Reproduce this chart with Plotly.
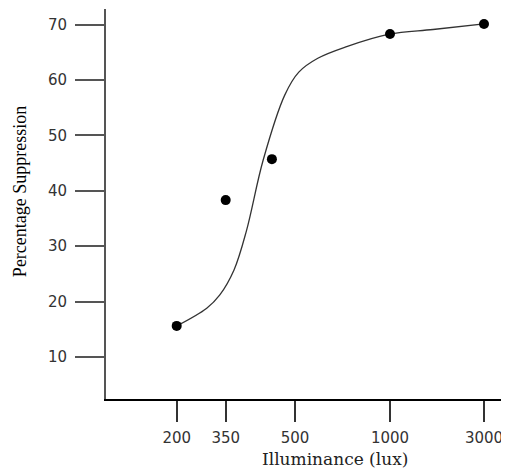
import numpy as np
import plotly.graph_objects as go

# Data
tick_lux = [200, 350, 500, 1000, 3000]
tick_labels = ["200", "350", "500", "1000", "3000"]
y_ticks = [10, 20, 30, 40, 50, 60, 70]

point_lux = [200, 350, 450, 1000, 3000]
point_pct = [15.6, 38.3, 45.7, 68.3, 70.1]

curve_lux = [200, 292, 332, 368, 395, 431, 478, 520, 620, 772, 996, 1915, 3000]
curve_pct = [15.6, 18.8, 21.2, 25.7, 32.8, 45.5, 57.3, 61.4, 63.9, 66.0, 68.25, 69.1, 70.1]

# Non-uniform display scale for the x axis (position of each tick label)
tick_pos = [7.07, 11.97, 18.9, 28.4, 37.8]


def to_pos(lux):
    return np.interp(lux, tick_lux, tick_pos)


fig = go.Figure()
fig.add_trace(go.Scatter(
    x=to_pos(curve_lux), y=curve_pct, mode="lines",
    line=dict(color="#333333", width=1.3, shape="spline", smoothing=1.0),
    hoverinfo="skip", showlegend=False))
fig.add_trace(go.Scatter(
    x=to_pos(point_lux), y=point_pct, mode="markers",
    marker=dict(color="black", size=10, symbol="circle"),
    showlegend=False))

tick_font = dict(family="DejaVu Sans", size=15, color="#333333")

# The page body has an 8px default margin; the figure is offset accordingly.
fig.update_layout(
    width=509, height=471,
    margin=dict(l=98, r=8, t=1, b=80),
    paper_bgcolor="white", plot_bgcolor="white",
    xaxis=dict(range=[0, 40.3], tickmode="array", tickvals=tick_pos,
               ticktext=tick_labels, showgrid=False, zeroline=False,
               showline=True, linecolor="black", linewidth=1.5,
               ticks="outside", ticklen=21, tickwidth=1.5, tickcolor="#333333",
               tickfont=tick_font, ticklabelstandoff=3, automargin=False,
               ticklabeloverflow="allow"),
    yaxis=dict(range=[2.4, 72.8], tickmode="array", tickvals=y_ticks,
               showgrid=False, zeroline=False,
               showline=True, linecolor="#555555", linewidth=2,
               ticks="outside", ticklen=29, tickwidth=2, tickcolor="#555555",
               tickfont=tick_font, ticklabelstandoff=5, automargin=False),
    annotations=[
        dict(text="Percentage Suppression", xref="paper", yref="paper",
             x=-0.2134, y=0.533, xanchor="center", yanchor="middle",
             textangle=-90, showarrow=False,
             font=dict(family="Liberation Serif", size=18, color="black")),
        dict(text="Illuminance (lux)", xref="paper", yref="paper",
             x=0.568, y=-0.124, xanchor="center", yanchor="top",
             showarrow=False,
             font=dict(family="DejaVu Serif", size=17, color="#222222")),
    ],
)

fig.write_html("out.html")
